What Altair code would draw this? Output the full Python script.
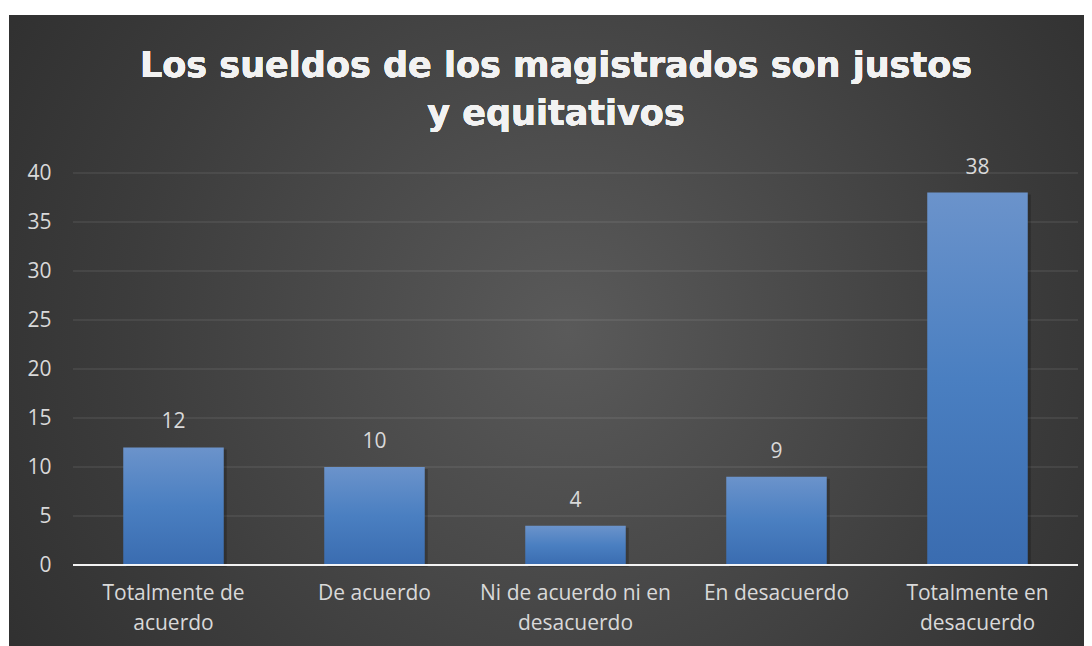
import altair as alt
import pandas as pd

categories = [
    "Totalmente de\nacuerdo",
    "De acuerdo",
    "Ni de acuerdo ni en\ndesacuerdo",
    "En desacuerdo",
    "Totalmente en\ndesacuerdo",
]
values = [12, 10, 4, 9, 38]
y_ticks = [0, 5, 10, 15, 20, 25, 30, 35, 40]
title_lines = ["Los sueldos de los magistrados son justos", "y equitativos"]

df = pd.DataFrame({"cat": categories, "val": values})
grid_df = pd.DataFrame({"tick": y_ticks[1:]})

W, H = 1005, 392
PAD = {"left": 65, "top": 165, "right": 6, "bottom": 81}

bg_fill = alt.RadialGradient(
    gradient="radial",
    stops=[
        alt.GradientStop(color="#5a5a5a", offset=0),
        alt.GradientStop(color="#3c3c3c", offset=0.55),
        alt.GradientStop(color="#272727", offset=1),
    ],
    x1=0.52, y1=0.5, r1=0, x2=0.52, y2=0.5, r2=0.75,
)

bar_fill = alt.LinearGradient(
    gradient="linear",
    stops=[
        alt.GradientStop(color="#6b93cb", offset=0),
        alt.GradientStop(color="#4a7fc1", offset=0.5),
        alt.GradientStop(color="#3a6cb0", offset=1),
    ],
    x1=0, y1=0, x2=0, y2=1,
)

background = alt.Chart(df).mark_rect(fill=bg_fill).encode(
    x=alt.value(-64),
    x2=alt.value(W + PAD["right"]),
    y=alt.value(-158),
    y2=alt.value(H + PAD["bottom"]),
)

x_enc = alt.X(
    "cat:N",
    sort=categories,
    scale=alt.Scale(paddingInner=0.5, paddingOuter=0.25),
    axis=alt.Axis(
        title=None,
        labelAngle=0,
        labelExpr="split(datum.label, '\\n')",
        labelFont="Open Sans",
        labelFontSize=21,
        labelColor="#d9d9d9",
        labelLineHeight=30,
        labelPadding=17,
        labelLimit=400,
        ticks=False,
        domain=False,
        grid=False,
        zindex=2,
    ),
)

y_scale = alt.Scale(domain=[0, 40], nice=False)

y_enc = alt.Y(
    "val:Q",
    scale=y_scale,
    axis=alt.Axis(
        title=None,
        values=y_ticks,
        labelFont="Open Sans",
        labelFontSize=21,
        labelColor="#d9d9d9",
        labelPadding=22,
        ticks=False,
        domain=False,
        grid=False,
        zindex=2,
    ),
)

grid = alt.Chart(grid_df).mark_rule(color="#ffffff", opacity=0.09, strokeWidth=1.5).encode(
    x=alt.value(0), x2=alt.value(W), y=alt.Y("tick:Q", scale=y_scale)
)

shadow = alt.Chart(df).mark_bar(color="#000000", opacity=0.22, xOffset=3, yOffset=2).encode(
    x=x_enc, y=y_enc
)

bars = alt.Chart(df).mark_bar(fill=bar_fill).encode(x=x_enc, y=y_enc)

zero_line = alt.Chart(df).mark_rule(color="#ffffff", opacity=0.42, strokeWidth=2).encode(
    x=alt.value(0), x2=alt.value(W), y=alt.datum(0, type="quantitative")
)

labels = alt.Chart(df).mark_text(
    baseline="alphabetic", dy=-19, font="Open Sans", fontSize=21, color="#d9d9d9"
).encode(x=x_enc, y=y_enc, text="val:Q")

title = alt.Chart(df).mark_text(
    text=title_lines,
    font="DejaVu Sans",
    fontWeight="bold",
    fontSize=35,
    color="#f2f2f2",
    align="center",
    baseline="alphabetic",
    lineHeight=48,
).encode(x=alt.value(483), y=alt.value(-96))

chart = (
    alt.layer(background, grid, shadow, bars, zero_line, labels, title)
    .properties(
        width=W,
        height=H,
        padding=PAD,
        autosize=alt.AutoSizeParams(type="none"),
        background="#ffffff",
    )
    .configure_view(stroke=None)
)

chart.save("out.html", embed_options={"renderer": "svg", "actions": False})
